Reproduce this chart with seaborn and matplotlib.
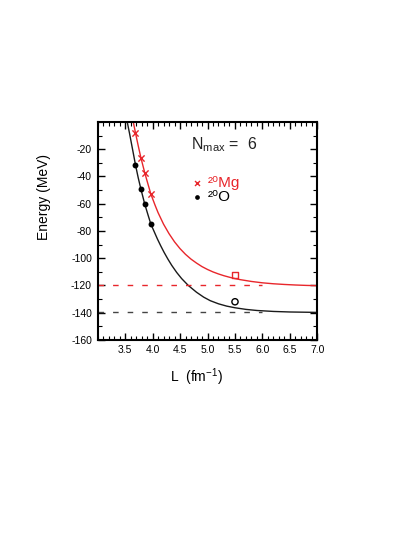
import numpy as np
import pandas as pd
import matplotlib
matplotlib.use("Agg")
import matplotlib.pyplot as plt
from matplotlib.ticker import MultipleLocator, FixedLocator
import seaborn as sns

# ---- data ----
L_pts = [3.69, 3.79, 3.86, 3.97]
mg_E = [-8.0, -26.5, -37.5, -53.0]
o_E = [-31.5, -49.5, -60.5, -75.0]

mg_curve_L = [3.65, 3.69, 3.74, 3.79, 3.86, 3.92, 3.97, 4.05, 4.10, 4.20, 4.30, 4.40,
              4.50, 4.60, 4.70, 4.80, 4.90, 5.00, 5.10, 5.20, 5.30, 5.40, 5.50, 5.60,
              5.80, 6.00, 6.20, 6.40, 6.60, 6.80, 7.00]
mg_curve_E = [0.0, -8.0, -17.5, -26.5, -37.5, -46.0, -53.0, -61.5, -66.5, -75.0, -82.0,
              -88.0, -93.0, -97.2, -100.7, -103.6, -106.2, -108.3, -110.1, -111.6,
              -112.9, -114.0, -115.0, -115.8, -117.1, -118.1, -118.8, -119.3, -119.7,
              -120.0, -120.2]
o_curve_L = [3.54, 3.58, 3.62, 3.66, 3.69, 3.74, 3.79, 3.86, 3.92, 3.97, 4.03, 4.09,
             4.15, 4.21, 4.28, 4.35, 4.44, 4.53, 4.65, 4.80, 4.93, 5.05, 5.20, 5.35,
             5.50, 5.70, 5.90, 6.20, 6.50, 7.00]
o_curve_E = [0.0, -8.0, -16.5, -25.0, -31.5, -41.0, -49.5, -60.5, -68.5, -75.0, -80.5,
             -86.0, -91.0, -95.7, -100.7, -105.3, -110.5, -115.0, -120.0, -125.0,
             -128.6, -131.2, -133.5, -135.2, -136.4, -137.6, -138.4, -139.1, -139.5,
             -139.8]

extrap_L = [5.5]
mg_extrap = [-112.5]
o_extrap = [-132.0]

dash_L = [3.0, 6.0]
mg_dash_E = [-120.0, -120.0]
o_dash_E = [-139.5, -139.5]

x_ticks = [3.5, 4.0, 4.5, 5.0, 5.5, 6.0, 6.5, 7.0]
y_ticks = [-160, -140, -120, -100, -80, -60, -40, -20]
series_labels = ["\u00b2\u2070Mg", "\u00b2\u2070O"]

RED = "#e8262b"
BLK = "#1a1a1a"

sns.set_theme(style="ticks")
plt.rcParams["font.family"] = ["Liberation Sans", "DejaVu Sans"]
plt.rcParams["mathtext.fontset"] = "custom"
plt.rcParams["mathtext.rm"] = "Liberation Sans"
plt.rcParams["mathtext.it"] = "Liberation Sans"
plt.rcParams["mathtext.bf"] = "Liberation Sans"

fig = plt.figure(figsize=(4.15, 5.37), dpi=100)
ax = fig.add_axes([0.235, 0.367, 0.530, 0.406])

sns.lineplot(x=mg_curve_L, y=mg_curve_E, ax=ax, color=RED, lw=1.0, sort=False,
             solid_joinstyle="round")
sns.lineplot(x=o_curve_L, y=o_curve_E, ax=ax, color=BLK, lw=1.0, sort=False,
             solid_joinstyle="round")
sns.lineplot(x=dash_L, y=mg_dash_E, ax=ax, color=RED, lw=1.0,
             linestyle=(0, (4, 6.5)))
sns.lineplot(x=dash_L, y=o_dash_E, ax=ax, color="#444444", lw=1.0,
             linestyle=(0, (4, 6.5)))

h_mg = ax.scatter(L_pts, mg_E, marker="x", s=20, color=RED, linewidths=1.0, zorder=5)
h_o = ax.scatter(L_pts, o_E, marker="o", s=18, color="black", linewidths=0, zorder=5)
ax.scatter(extrap_L, mg_extrap, marker="s", s=20, facecolors="none", edgecolors=RED,
           linewidths=1.0, zorder=5)
ax.scatter(extrap_L, o_extrap, marker="o", s=20, facecolors="none", edgecolors="black",
           linewidths=1.0, zorder=5)

ax.set_xlim(3.0, 7.0)
ax.set_ylim(-160, 0)
ax.xaxis.set_major_locator(FixedLocator(x_ticks))
ax.xaxis.set_minor_locator(MultipleLocator(0.1))
ax.yaxis.set_major_locator(FixedLocator(y_ticks))
ax.yaxis.set_minor_locator(MultipleLocator(10))
ax.set_xticklabels([f"{t:.1f}" for t in x_ticks])
ax.set_yticklabels([str(t) for t in y_ticks])
ax.tick_params(which="both", direction="in", top=True, right=True, color="black",
               labelsize=7.5, labelcolor="black", pad=4)
ax.tick_params(which="major", length=5, width=1.0)
ax.tick_params(which="minor", length=3, width=0.8)
for s in ax.spines.values():
    s.set_linewidth(1.5)
    s.set_color("black")

ax.set_xlabel(r"L  (fm$^{-1}$)", fontsize=10, color="black")
ax.set_ylabel("Energy (MeV)", fontsize=10, color="black")
ax.xaxis.set_label_coords(0.45, -0.12)
ax.yaxis.set_label_coords(-0.21, 0.655)

ax.text(0.425, 0.875, r"N$_{\rm max}$ =  6", transform=ax.transAxes, fontsize=11.5,
        color="#222222", va="baseline", ha="left")

leg = ax.legend(handles=[h_mg, h_o], labels=series_labels,
                loc="upper left", bbox_to_anchor=(0.425, 0.752), frameon=False,
                handlelength=0.8, handletextpad=0.3, labelspacing=0.0, borderpad=0,
                borderaxespad=0, fontsize=11, markerscale=0.8)
leg.get_texts()[0].set_color(RED)
leg.get_texts()[1].set_color("black")

fig.savefig("out.png", dpi=100)
